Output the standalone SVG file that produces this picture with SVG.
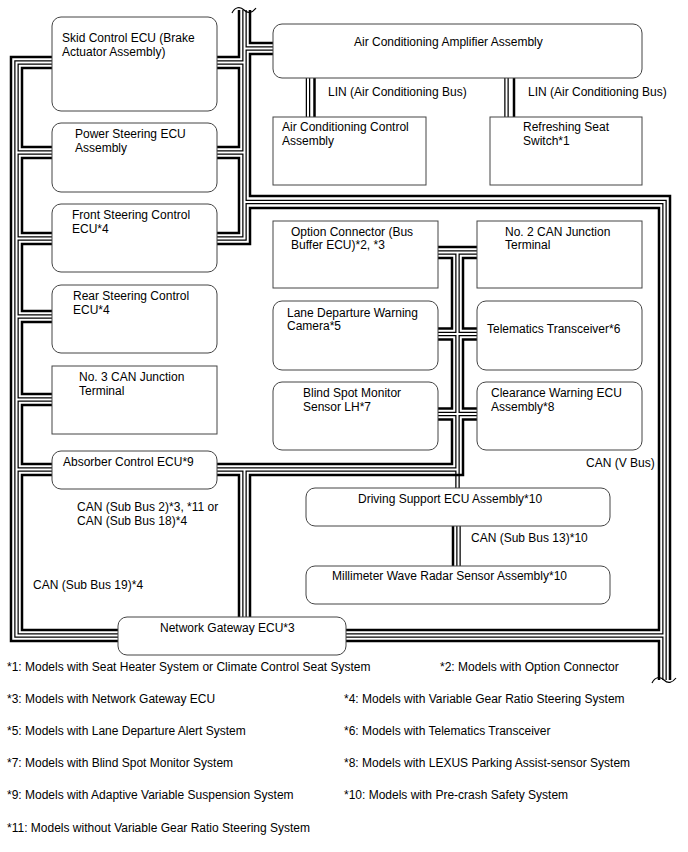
<svg xmlns="http://www.w3.org/2000/svg" xmlns:xlink="http://www.w3.org/1999/xlink" width="688" height="852" viewBox="0 0 688 852">
<style>
.t{fill:none;stroke:#000;stroke-width:2.5;stroke-linejoin:miter}
.db{fill:none;stroke:#000;stroke-width:4.5;stroke-linejoin:miter}
.dw{fill:none;stroke:#fff;stroke-width:2;stroke-linejoin:miter}
.brk{fill:none;stroke:#000;stroke-width:1.2}
.n{fill:#fff;stroke:#444;stroke-width:1}
text{font-family:"Liberation Sans",Arial,sans-serif;font-size:12px;fill:#000}
</style>
<defs>
<path id="dbl" d="M54,62.5 H16.5 V635.5 H120 M16.5,152.5 H54 M16.5,238.5 H54 M16.5,316.5 H54 M16.5,399.5 H54 M16.5,469.5 H54
M244.5,10 V238.5 H215 M215,62.5 H244.5 M244.5,48.5 H275 M215,152.5 H244.5 M244.5,202 H664.5 V680 M344,635.5 H664.5
M436,252.5 H479 M457.5,252.5 V490 M457.5,469.5 H215 M436,334 H479 M436,414 H479 M244.5,469.5 V619
M458.5,524 V568 M308,76 V119 M506.5,76 V119"/>
</defs>
<g id="connectors">
<use xlink:href="#dbl" class="db"/>
<use xlink:href="#dbl" class="dw"/>
<path class="t" d="M54,57 H11 V641 H120 M54,68 H22 V147 H54 M54,158 H22 V233 H54 M54,244 H22 V311 H54 M54,322 H22 V394 H54 M54,405 H22 V464 H54 M54,475 H22 V630 H120"/>
<path class="t" d="M239,10 V57 H215 M215,68 H239 V147 H215 M215,158 H239 V233 H215 M250,10 V43 H275 M275,54 H250 V196 H670 V680 M215,244 H250 V208 H659 V630 H344 M344,641 H659 V680"/>
<path class="t" d="M436,247 H479 M436,258 H452 V328.5 H436 M479,258 H463 V328.5 H479 M436,339.5 H452 V408.5 H436 M479,339.5 H463 V408.5 H479 M436,419.5 H452 V464 H215 M479,419.5 H463 V475 H250 V619 M215,475 H239 V619"/>
<path class="t" d="M453,524 V568 M314.5,76 V119 M514,76 V119"/>
<path class="brk" d="M232,13 C235,7 240,6 244,10 C248,14 252,13 256,8"/>
<path class="brk" d="M652,683 C655,677 660,676 664,680 C668,684 672,683 676,678"/>
</g>
<g id="skid"><rect class="n" x="52" y="17" width="165" height="94" rx="9"/><text x="62" y="42">Skid Control ECU (Brake</text><text x="62" y="56">Actuator Assembly)</text></g>
<g id="ps"><rect class="n" x="52" y="123" width="165" height="69" rx="9"/><text x="75" y="138">Power Steering ECU</text><text x="75" y="152">Assembly</text></g>
<g id="fs"><rect class="n" x="52" y="204" width="165" height="68" rx="9"/><text x="72" y="219">Front Steering Control</text><text x="72" y="233">ECU*4</text></g>
<g id="rs"><rect class="n" x="52" y="285" width="165" height="68" rx="9"/><text x="73" y="300">Rear Steering Control</text><text x="73" y="314">ECU*4</text></g>
<g id="no3"><rect class="n" x="52" y="366" width="165" height="68"/><text x="79" y="381">No. 3 CAN Junction</text><text x="79" y="395">Terminal</text></g>
<g id="absorber"><rect class="n" x="52" y="451" width="165" height="38" rx="9"/><text x="63" y="466">Absorber Control ECU*9</text></g>
<g id="acamp"><rect class="n" x="273" y="24" width="369" height="54" rx="9"/><text x="354" y="46">Air Conditioning Amplifier Assembly</text></g>
<g id="accontrol"><rect class="n" x="273" y="117" width="153" height="68"/><text x="282" y="131">Air Conditioning Control</text><text x="282" y="145">Assembly</text></g>
<g id="refresh"><rect class="n" x="490" y="117" width="152" height="68"/><text x="523" y="131">Refreshing Seat</text><text x="523" y="145">Switch*1</text></g>
<g id="option"><rect class="n" x="273" y="221" width="165" height="67"/><text x="291" y="236">Option Connector (Bus</text><text x="291" y="249">Buffer ECU)*2, *3</text></g>
<g id="no2"><rect class="n" x="477" y="221" width="165" height="67"/><text x="505" y="236">No. 2 CAN Junction</text><text x="505" y="249">Terminal</text></g>
<g id="lane"><rect class="n" x="273" y="301" width="165" height="69" rx="9"/><text x="287" y="317">Lane Departure Warning</text><text x="287" y="330">Camera*5</text></g>
<g id="telematics"><rect class="n" x="477" y="301" width="165" height="69" rx="9"/><text x="487" y="333">Telematics Transceiver*6</text></g>
<g id="blind"><rect class="n" x="273" y="382" width="165" height="68" rx="9"/><text x="303" y="397">Blind Spot Monitor</text><text x="303" y="411">Sensor LH*7</text></g>
<g id="clearance"><rect class="n" x="477" y="382" width="165" height="68" rx="9"/><text x="491" y="397">Clearance Warning ECU</text><text x="491" y="411">Assembly*8</text></g>
<g id="driving"><rect class="n" x="306" y="488" width="304" height="38" rx="9"/><text x="358" y="503">Driving Support ECU Assembly*10</text></g>
<g id="mwr"><rect class="n" x="306" y="566" width="304" height="38" rx="9"/><text x="332" y="580">Millimeter Wave Radar Sensor Assembly*10</text></g>
<g id="ngw"><rect class="n" x="118" y="617" width="228" height="38" rx="9"/><text x="160" y="632">Network Gateway ECU*3</text></g>
<g id="labels">
<text x="328" y="96">LIN (Air Conditioning Bus)</text>
<text x="528" y="96">LIN (Air Conditioning Bus)</text>
<text x="586" y="467">CAN (V Bus)</text>
<text x="77" y="511">CAN (Sub Bus 2)*3, *11 or</text>
<text x="77" y="525">CAN (Sub Bus 18)*4</text>
<text x="471" y="542">CAN (Sub Bus 13)*10</text>
<text x="33" y="589">CAN (Sub Bus 19)*4</text>
</g>
<g id="notes">
<text x="7" y="671">*1: Models with Seat Heater System or Climate Control Seat System</text>
<text x="440" y="671">*2: Models with Option Connector</text>
<text x="7" y="703">*3: Models with Network Gateway ECU</text>
<text x="344" y="703">*4: Models with Variable Gear Ratio Steering System</text>
<text x="7" y="735">*5: Models with Lane Departure Alert System</text>
<text x="344" y="735">*6: Models with Telematics Transceiver</text>
<text x="7" y="767">*7: Models with Blind Spot Monitor System</text>
<text x="344" y="767">*8: Models with LEXUS Parking Assist-sensor System</text>
<text x="7" y="799">*9: Models with Adaptive Variable Suspension System</text>
<text x="344" y="799">*10: Models with Pre-crash Safety System</text>
<text x="7" y="832">*11: Models without Variable Gear Ratio Steering System</text>
</g>
</svg>
